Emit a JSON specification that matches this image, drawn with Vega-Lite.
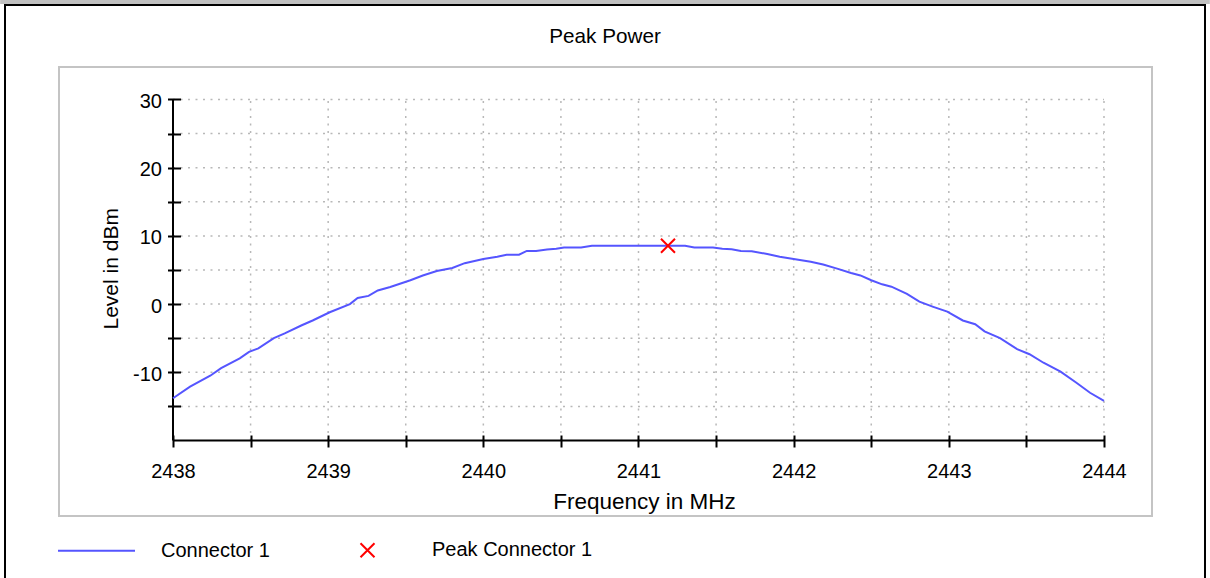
{
  "$schema": "https://vega.github.io/schema/vega-lite/v6.json",
  "width": 1210,
  "height": 578,
  "autosize": {"type": "none"},
  "padding": 0,
  "background": "white",
  "config": {
    "font": "Liberation Sans",
    "view": {"stroke": null}
  },
  "title": {
    "text": "Peak Power",
    "fontSize": 20.7,
    "fontWeight": "normal",
    "color": "black",
    "anchor": "middle",
    "baseline": "alphabetic",
    "offset": -64
  },
  "datasets": {
    "trace": [
      {"f": 2438.00, "dBm": -13.8, "series": "Connector 1"},
      {"f": 2438.11, "dBm": -12.1, "series": "Connector 1"},
      {"f": 2438.24, "dBm": -10.5, "series": "Connector 1"},
      {"f": 2438.31, "dBm": -9.4, "series": "Connector 1"},
      {"f": 2438.43, "dBm": -7.95, "series": "Connector 1"},
      {"f": 2438.49, "dBm": -7.0, "series": "Connector 1"},
      {"f": 2438.55, "dBm": -6.5, "series": "Connector 1"},
      {"f": 2438.65, "dBm": -5.0, "series": "Connector 1"},
      {"f": 2438.72, "dBm": -4.3, "series": "Connector 1"},
      {"f": 2438.83, "dBm": -3.1, "series": "Connector 1"},
      {"f": 2438.90, "dBm": -2.4, "series": "Connector 1"},
      {"f": 2439.01, "dBm": -1.2, "series": "Connector 1"},
      {"f": 2439.14, "dBm": 0.0, "series": "Connector 1"},
      {"f": 2439.19, "dBm": 0.9, "series": "Connector 1"},
      {"f": 2439.26, "dBm": 1.2, "series": "Connector 1"},
      {"f": 2439.32, "dBm": 2.0, "series": "Connector 1"},
      {"f": 2439.40, "dBm": 2.5, "series": "Connector 1"},
      {"f": 2439.53, "dBm": 3.5, "series": "Connector 1"},
      {"f": 2439.61, "dBm": 4.2, "series": "Connector 1"},
      {"f": 2439.70, "dBm": 4.85, "series": "Connector 1"},
      {"f": 2439.80, "dBm": 5.3, "series": "Connector 1"},
      {"f": 2439.88, "dBm": 6.0, "series": "Connector 1"},
      {"f": 2440.00, "dBm": 6.6, "series": "Connector 1"},
      {"f": 2440.09, "dBm": 6.95, "series": "Connector 1"},
      {"f": 2440.15, "dBm": 7.25, "series": "Connector 1"},
      {"f": 2440.23, "dBm": 7.25, "series": "Connector 1"},
      {"f": 2440.28, "dBm": 7.8, "series": "Connector 1"},
      {"f": 2440.34, "dBm": 7.8, "series": "Connector 1"},
      {"f": 2440.41, "dBm": 8.0, "series": "Connector 1"},
      {"f": 2440.47, "dBm": 8.1, "series": "Connector 1"},
      {"f": 2440.52, "dBm": 8.3, "series": "Connector 1"},
      {"f": 2440.63, "dBm": 8.3, "series": "Connector 1"},
      {"f": 2440.70, "dBm": 8.55, "series": "Connector 1"},
      {"f": 2441.00, "dBm": 8.55, "series": "Connector 1"},
      {"f": 2441.30, "dBm": 8.55, "series": "Connector 1"},
      {"f": 2441.36, "dBm": 8.3, "series": "Connector 1"},
      {"f": 2441.48, "dBm": 8.3, "series": "Connector 1"},
      {"f": 2441.54, "dBm": 8.1, "series": "Connector 1"},
      {"f": 2441.60, "dBm": 8.05, "series": "Connector 1"},
      {"f": 2441.66, "dBm": 7.8, "series": "Connector 1"},
      {"f": 2441.73, "dBm": 7.75, "series": "Connector 1"},
      {"f": 2441.83, "dBm": 7.35, "series": "Connector 1"},
      {"f": 2441.91, "dBm": 6.95, "series": "Connector 1"},
      {"f": 2442.00, "dBm": 6.6, "series": "Connector 1"},
      {"f": 2442.11, "dBm": 6.2, "series": "Connector 1"},
      {"f": 2442.19, "dBm": 5.8, "series": "Connector 1"},
      {"f": 2442.28, "dBm": 5.2, "series": "Connector 1"},
      {"f": 2442.37, "dBm": 4.55, "series": "Connector 1"},
      {"f": 2442.43, "dBm": 4.2, "series": "Connector 1"},
      {"f": 2442.50, "dBm": 3.5, "series": "Connector 1"},
      {"f": 2442.57, "dBm": 2.9, "series": "Connector 1"},
      {"f": 2442.63, "dBm": 2.55, "series": "Connector 1"},
      {"f": 2442.73, "dBm": 1.5, "series": "Connector 1"},
      {"f": 2442.81, "dBm": 0.35, "series": "Connector 1"},
      {"f": 2442.90, "dBm": -0.4, "series": "Connector 1"},
      {"f": 2442.99, "dBm": -1.1, "series": "Connector 1"},
      {"f": 2443.09, "dBm": -2.4, "series": "Connector 1"},
      {"f": 2443.17, "dBm": -2.95, "series": "Connector 1"},
      {"f": 2443.23, "dBm": -4.0, "series": "Connector 1"},
      {"f": 2443.33, "dBm": -5.0, "series": "Connector 1"},
      {"f": 2443.44, "dBm": -6.6, "series": "Connector 1"},
      {"f": 2443.52, "dBm": -7.35, "series": "Connector 1"},
      {"f": 2443.61, "dBm": -8.6, "series": "Connector 1"},
      {"f": 2443.72, "dBm": -9.9, "series": "Connector 1"},
      {"f": 2443.82, "dBm": -11.5, "series": "Connector 1"},
      {"f": 2443.91, "dBm": -13.0, "series": "Connector 1"},
      {"f": 2444.00, "dBm": -14.2, "series": "Connector 1"}
    ],
    "peak": [
      {"f": 2441.19, "dBm": 8.55, "series": "Peak Connector 1"}
    ],
    "gx": [
      {"v": 2438.5}, {"v": 2439}, {"v": 2439.5}, {"v": 2440}, {"v": 2440.5}, {"v": 2441},
      {"v": 2441.5}, {"v": 2442}, {"v": 2442.5}, {"v": 2443}, {"v": 2443.5}, {"v": 2444}
    ],
    "gy": [
      {"v": -15}, {"v": -10}, {"v": -5}, {"v": 0}, {"v": 5}, {"v": 10},
      {"v": 15}, {"v": 20}, {"v": 25}, {"v": 30}
    ]
  },
  "encoding": {
    "x": {
      "type": "quantitative",
      "scale": {"domain": [2436.88507, 2444.68314], "nice": false, "zero": false},
      "axis": {
        "title": "Frequency in MHz",
        "values": [2438, 2438.5, 2439, 2439.5, 2440, 2440.5, 2441, 2441.5, 2442, 2442.5, 2443, 2443.5, 2444],
        "labelExpr": "datum.value % 1 === 0 ? '' + datum.value : ''",
        "domain": false, "grid": false, "zindex": 2,
        "offset": -143,
        "tickSize": 12, "tickWidth": 2, "tickColor": "black",
        "labelPadding": 14, "labelFontSize": 20, "labelColor": "black", "labelFont": "Liberation Sans",
        "labelFlush": false, "labelOverlap": false,
        "titleFontSize": 22.5, "titleFontWeight": "normal", "titleColor": "black", "titleFont": "Liberation Sans",
        "titleBaseline": "alphabetic", "titleAlign": "center",
        "titleX": 644, "titleY": 73
      }
    },
    "y": {
      "type": "quantitative",
      "scale": {"domain": [-40.1613, 44.5894], "nice": false, "zero": false},
      "axis": {
        "title": "Level in dBm",
        "values": [-15, -10, -5, 0, 5, 10, 15, 20, 25, 30],
        "labelExpr": "datum.value % 10 === 0 ? '' + datum.value : ''",
        "domain": false, "grid": false, "zindex": 2,
        "offset": -180.5,
        "tickSize": 13, "tickWidth": 2, "tickColor": "black",
        "labelPadding": 6, "labelOffset": 2, "labelFontSize": 20, "labelColor": "black", "labelFont": "Liberation Sans",
        "labelFlush": false, "labelOverlap": false,
        "titleFontSize": 21, "titleFontWeight": "normal", "titleColor": "black", "titleFont": "Liberation Sans",
        "titleBaseline": "alphabetic", "titleAlign": "center", "titleAngle": 270,
        "titleX": -63.2, "titleY": 268.3
      }
    }
  },
  "layer": [
    {
      "data": {"values": [{}]},
      "mark": {"type": "rect", "fill": "#c0c0c0"},
      "encoding": {
        "x": {"datum": 2436.886, "type": "quantitative"},
        "x2": {"datum": 2444.682},
        "y": {"datum": 44.589, "type": "quantitative"},
        "y2": {"datum": 44.003}
      }
    },
    {
      "data": {"values": [{}]},
      "mark": {"type": "rect", "fillOpacity": 0, "stroke": "black", "strokeWidth": 2},
      "encoding": {
        "x": {"datum": 2436.9173, "type": "quantitative"},
        "x2": {"datum": 2444.6509},
        "y": {"datum": 43.856, "type": "quantitative"},
        "y2": {"datum": -40.5}
      }
    },
    {
      "data": {"values": [{}]},
      "mark": {"type": "rect", "fillOpacity": 0, "stroke": "#c4c4c4", "strokeWidth": 2},
      "encoding": {
        "x": {"datum": 2437.2653, "type": "quantitative"},
        "x2": {"datum": 2444.3093},
        "y": {"datum": 34.765, "type": "quantitative"},
        "y2": {"datum": -31.071}
      }
    },
    {
      "data": {"name": "gx"},
      "mark": {"type": "rule", "stroke": "#b8b8b8", "strokeWidth": 1.5, "strokeDash": [2, 5.5]},
      "encoding": {
        "x": {"field": "v", "type": "quantitative"},
        "y": {"datum": -20, "type": "quantitative"},
        "y2": {"datum": 30}
      }
    },
    {
      "data": {"name": "gy"},
      "mark": {"type": "rule", "stroke": "#b8b8b8", "strokeWidth": 1.5, "strokeDash": [2, 5.5]},
      "encoding": {
        "y": {"field": "v", "type": "quantitative"},
        "x": {"datum": 2438, "type": "quantitative"},
        "x2": {"datum": 2444}
      }
    },
    {
      "data": {"values": [{}]},
      "mark": {"type": "rule", "stroke": "black", "strokeWidth": 2},
      "encoding": {
        "x": {"datum": 2438, "type": "quantitative"},
        "y": {"datum": -20, "type": "quantitative"},
        "y2": {"datum": 30}
      }
    },
    {
      "data": {"values": [{}]},
      "mark": {"type": "rule", "stroke": "black", "strokeWidth": 2},
      "encoding": {
        "y": {"datum": -20, "type": "quantitative"},
        "x": {"datum": 2438, "type": "quantitative"},
        "x2": {"datum": 2444}
      }
    },
    {
      "data": {"name": "trace"},
      "mark": {"type": "line", "strokeWidth": 2, "interpolate": "linear"},
      "encoding": {
        "x": {"field": "f", "type": "quantitative"},
        "y": {"field": "dBm", "type": "quantitative"},
        "color": {
          "field": "series", "type": "nominal",
          "scale": {"domain": ["Connector 1", "Peak Connector 1"], "range": ["#5555ff", "#ff0000"]},
          "legend": {
            "title": null, "orient": "none", "legendX": 57, "legendY": 510.5,
            "direction": "horizontal", "columns": 2, "columnPadding": 58, "padding": 0,
            "labelFontSize": 20, "labelColor": "black", "labelFont": "Liberation Sans", "labelOffset": 25, "labelLimit": 400,
            "symbolSize": 5929, "symbolStrokeWidth": 2, "symbolFillColor": "transparent", "symbolOpacity": 1
          }
        }
      }
    },
    {
      "data": {"name": "peak"},
      "mark": {"type": "point", "filled": false, "strokeWidth": 2, "opacity": 1, "size": 5929},
      "encoding": {
        "x": {"field": "f", "type": "quantitative"},
        "y": {"field": "dBm", "type": "quantitative"},
        "color": {
          "field": "series", "type": "nominal",
          "scale": {"domain": ["Connector 1", "Peak Connector 1"], "range": ["#5555ff", "#ff0000"]},
          "legend": {
            "title": null, "orient": "none", "legendX": 57, "legendY": 510.5,
            "direction": "horizontal", "columns": 2, "columnPadding": 58, "padding": 0,
            "labelFontSize": 20, "labelColor": "black", "labelFont": "Liberation Sans", "labelOffset": 25, "labelLimit": 400,
            "symbolSize": 5929, "symbolStrokeWidth": 2, "symbolFillColor": "transparent", "symbolOpacity": 1
          }
        },
        "shape": {
          "field": "series", "type": "nominal",
          "scale": {"domain": ["Connector 1", "Peak Connector 1"], "range": ["stroke", "M-0.182,-0.182L0.182,0.182M-0.182,0.182L0.182,-0.182"]},
          "legend": {
            "title": null, "orient": "none", "legendX": 57, "legendY": 510.5,
            "direction": "horizontal", "columns": 2, "columnPadding": 58, "padding": 0,
            "labelFontSize": 20, "labelColor": "black", "labelFont": "Liberation Sans", "labelOffset": 25, "labelLimit": 400,
            "symbolSize": 5929, "symbolStrokeWidth": 2, "symbolFillColor": "transparent", "symbolOpacity": 1
          }
        }
      }
    }
  ]
}
